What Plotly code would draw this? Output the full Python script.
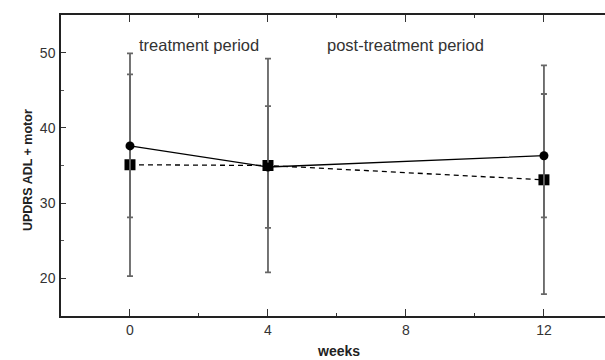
import plotly.graph_objects as go

weeks = [0, 4, 12]
circle_mean = [37.6, 34.8, 36.3]
circle_err = [9.5, 8.1, 8.2]
square_mean = [35.1, 35.0, 33.1]
square_err = [14.8, 14.2, 15.2]
x_ticks = [0, 4, 8, 12]
y_ticks = [20, 30, 40, 50]

fig = go.Figure()
fig.add_trace(go.Scatter(
    x=weeks, y=square_mean, mode="lines+markers",
    line=dict(color="black", width=1.3, dash="5px,4px"),
    marker=dict(symbol="square", size=11, color="black"),
    error_y=dict(type="data", array=square_err, visible=True, color="#666", thickness=1.8, width=3),
    showlegend=False))
fig.add_trace(go.Scatter(
    x=weeks, y=circle_mean, mode="lines+markers",
    line=dict(color="black", width=1.3),
    marker=dict(symbol="circle", size=9, color="black"),
    error_y=dict(type="data", array=circle_err, visible=True, color="#666", thickness=1.8, width=3),
    showlegend=False))

fig.add_annotation(x=2, y=51.0, text="treatment period", showarrow=False,
                   font=dict(family="Liberation Sans", size=16.5, color="#333"))
fig.add_annotation(x=8, y=51.0, text="post-treatment period", showarrow=False,
                   font=dict(family="Liberation Sans", size=16.5, color="#333"))
fig.add_annotation(xref="paper", yref="paper", x=(338 - 61) / 544, y=-(351 - 316) / 301,
                   yanchor="middle", text="<b>weeks</b>", showarrow=False,
                   font=dict(family="Liberation Sans", size=14, color="#222"))
fig.add_annotation(xref="paper", yref="paper", x=-0.077, y=(316 - 170) / 301, textangle=-90,
                   text="<b>UPDRS ADL + motor</b>", showarrow=False,
                   font=dict(family="Liberation Sans", size=12.5, color="#222"))

fig.update_layout(
    width=605, height=360,
    margin=dict(l=61, r=0, t=15, b=44),
    paper_bgcolor="white", plot_bgcolor="white",
    font=dict(family="Liberation Sans", size=14, color="#333"),
)
fig.update_xaxes(
    range=[-2, 13.77], tickvals=x_ticks, ticks="inside", ticklen=7, tickwidth=1.2,
    tickcolor="#333", showline=True, linecolor="#222", linewidth=1.5, mirror="ticks",
    showgrid=False, zeroline=False,
    minor=dict(tickvals=[2, 6, 10], ticks="inside", ticklen=3, tickcolor="#333"),
)
fig.update_yaxes(
    range=[15, 55], tickvals=y_ticks, ticks="inside", ticklen=5, tickwidth=1.2,
    tickcolor="#333", showline=True, linecolor="#222", linewidth=1.5, mirror=False,
    showgrid=False, zeroline=False, ticklabelstandoff=1,
    minor=dict(tickvals=[25, 35, 45], ticks="inside", ticklen=3, tickcolor="#555"),
)

fig.write_html("out.html")
